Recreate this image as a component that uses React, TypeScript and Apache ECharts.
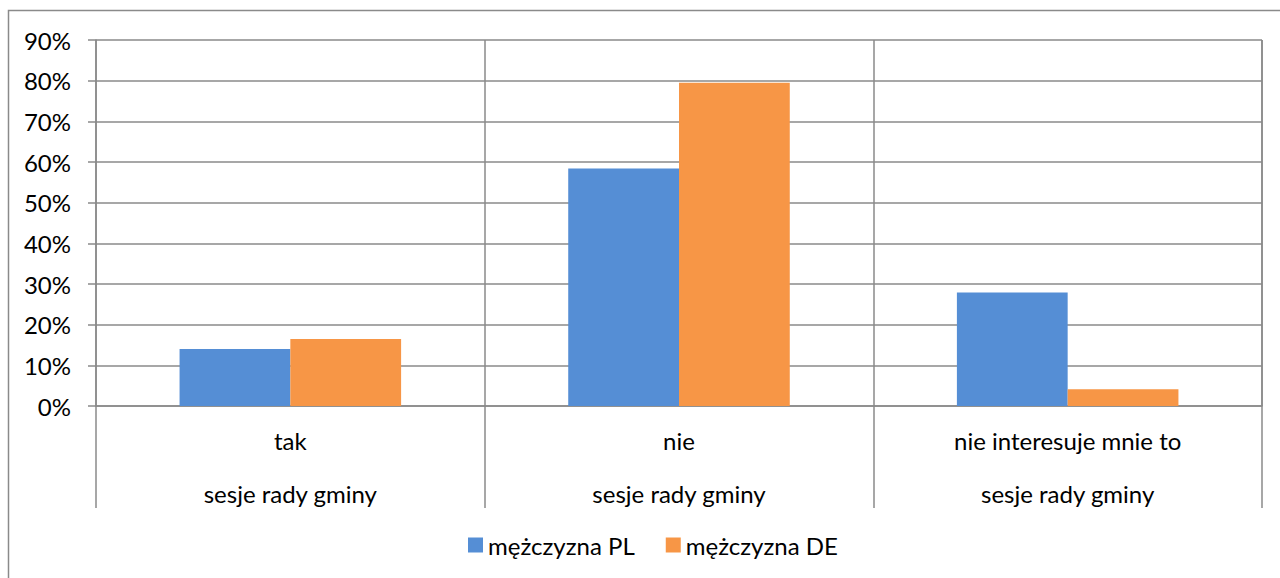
import React, { useEffect, useRef } from "react";
import * as echarts from "echarts";

const categories = ["tak", "nie", "nie interesuje mnie to"];
const groupLabel = "sesje rady gminy";
const seriesNames = ["mężczyzna PL", "mężczyzna DE"];
const valuesPL = [0.14, 0.584, 0.279];
const valuesDE = [0.165, 0.795, 0.041];
const colors = ["#558ED5", "#F79646"];

const FONT = "Lato";
const GRID_COLOR = "#8a8a8a";

export default function App() {
  const ref = useRef<HTMLDivElement>(null);
  useEffect(() => {
    if (!ref.current) return;
    const chart = echarts.init(ref.current, null, { renderer: "svg" });
    chart.setOption({
      animation: false,
      backgroundColor: "#ffffff",
      textStyle: { fontFamily: FONT, color: "#000" },
      grid: { left: 96, top: 40, right: 18, bottom: 172, containLabel: false, show: false },
      legend: {
        data: seriesNames,
        left: 468,
        top: 533,
        padding: 0,
        icon: "rect",
        itemWidth: 15,
        itemHeight: 15,
        itemGap: 31,
        textStyle: { fontFamily: FONT, fontSize: 24, color: "#000" },
      },
      xAxis: {
        type: "category",
        data: categories,
        boundaryGap: true,
        axisLine: { show: true, lineStyle: { color: GRID_COLOR, width: 1.5 } },
        axisTick: { show: true, length: 102, alignWithLabel: false, lineStyle: { color: GRID_COLOR, width: 1.5 } },
        splitLine: { show: true, lineStyle: { color: GRID_COLOR, width: 1.5 } },
        axisLabel: {
          interval: 0,
          margin: 8,
          fontFamily: FONT,
          fontSize: 24,
          color: "#000",
          lineHeight: 53,
          formatter: (v: string) => v + "\n" + groupLabel,
        },
      },
      yAxis: {
        type: "value",
        min: 0,
        max: 0.9,
        interval: 0.1,
        axisLine: { show: true, lineStyle: { color: GRID_COLOR, width: 1.5 } },
        axisTick: { show: true, length: 8, lineStyle: { color: GRID_COLOR, width: 1.5 } },
        splitLine: { show: true, lineStyle: { color: GRID_COLOR, width: 1.5 } },
        axisLabel: {
          margin: 25,
          fontFamily: FONT,
          fontSize: 24,
          color: "#000",
          formatter: (v: number) => Math.round(v * 100) + "%",
        },
      },
      graphic: [
        {
          type: "rect",
          shape: { x: 8.5, y: 10.5, width: 1300, height: 600 },
          style: { fill: "none", stroke: GRID_COLOR, lineWidth: 1.5 },
          silent: true,
        },
        {
          type: "line",
          shape: { x1: 1262, y1: 40, x2: 1262, y2: 406 },
          style: { stroke: GRID_COLOR, lineWidth: 1.5 },
          silent: true,
        },
      ],
      series: [
        {
          name: seriesNames[0],
          type: "bar",
          data: valuesPL,
          itemStyle: { color: colors[0] },
          barGap: "0%",
          barCategoryGap: "43%",
        },
        {
          name: seriesNames[1],
          type: "bar",
          data: valuesDE,
          itemStyle: { color: colors[1] },
          barGap: "0%",
          barCategoryGap: "43%",
        },
      ],
    });
    return () => chart.dispose();
  }, []);
  return (
    <div
      ref={ref}
      style={{ position: "absolute", left: 0, top: 0, width: 1280, height: 578 }}
    />
  );
}
